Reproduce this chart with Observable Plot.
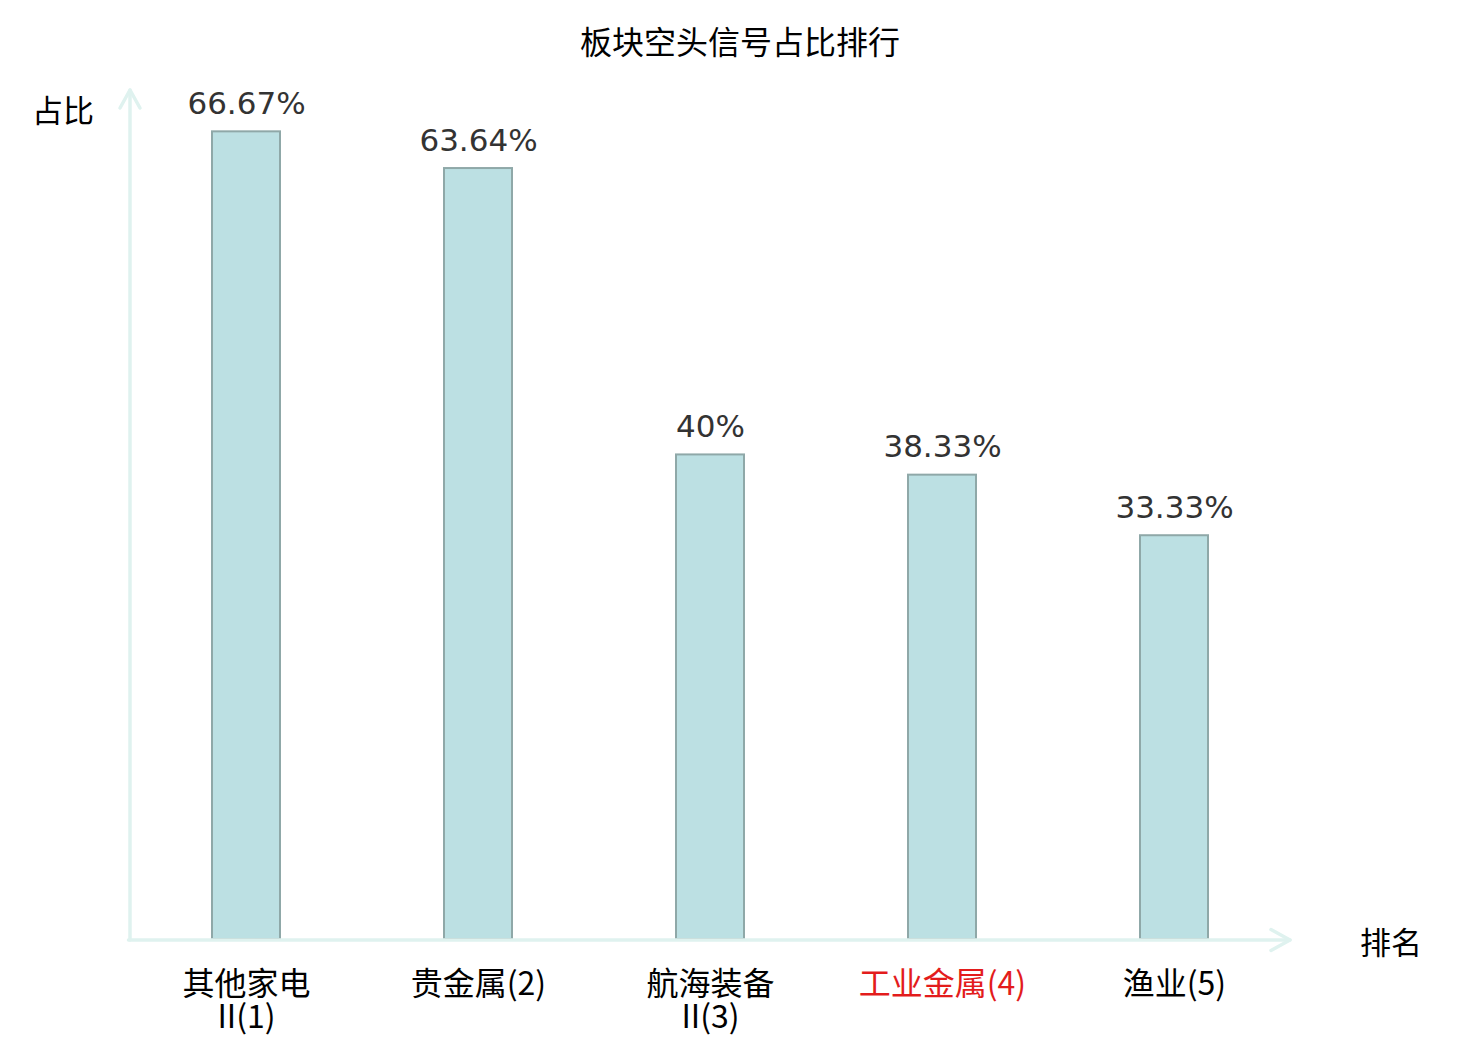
<!DOCTYPE html>
<html>
<head>
<meta charset="utf-8">
<script src="https://cdn.jsdelivr.net/npm/d3@7"></script>
<script src="https://cdn.jsdelivr.net/npm/@observablehq/plot@0.6"></script>
<style>
  html, body { margin: 0; padding: 0; background: #fff; }
  #title {
    width: 1480px; height: 70px; box-sizing: border-box; padding-top: 10px;
    text-align: center; font-family: "Noto Sans CJK SC", sans-serif;
    font-size: 32px; line-height: 60px; color: #000;
  }
  #chart svg { display: block; overflow: visible; }
</style>
</head>
<body>
<div id="title">板块空头信号占比排行</div>
<div id="chart"></div>
<script>
// Data
const categories = ["其他家电II", "贵金属", "航海装备II", "工业金属", "渔业"];
const ranks = [1, 2, 3, 4, 5];
const values = [66.67, 63.64, 40, 38.33, 33.33];
const tickLabels = ["其他家电\nII(1)", "贵金属(2)", "航海装备\nII(3)", "工业金属(4)", "渔业(5)"];
const labelColors = ["#000000", "#000000", "#000000", "#e31c1c", "#000000"];
const yDomain = [0, 70];
const axisNameY = "占比";
const axisNameX = "排名";

const data = categories.map((c, i) => ({
  name: c, rank: ranks[i], value: values[i], label: tickLabels[i], color: labelColors[i]
}));

const axisColor = "#dff2ef";

function axesMark(index, scales, values, dims) {
  const {width, height, marginLeft, marginRight, marginTop, marginBottom} = dims;
  const x0 = marginLeft, x1 = width - marginRight;
  const y0 = height - marginBottom, yTop = marginTop - 1;
  const g = d3.create("svg:g")
    .attr("fill", "none")
    .attr("stroke", axisColor)
    .attr("stroke-width", 3.5)
    .attr("stroke-linecap", "round")
    .attr("stroke-linejoin", "round");
  g.append("path").attr("d", `M${x0},${y0 + 1}L${x0},${yTop}`);
  g.append("path").attr("d", `M${x0 - 1.5},${y0 + 1}L${x1},${y0 + 1}`);
  g.append("path").attr("d", `M${x0 - 10},${yTop + 18}L${x0},${yTop}L${x0 + 10},${yTop + 18}`);
  g.append("path").attr("d", `M${x1 - 19},${y0 + 1 - 10.5}L${x1},${y0 + 1}L${x1 - 19},${y0 + 1 + 10.5}`);
  g.append("text")
    .attr("x", x0 - 67).attr("y", yTop + 18)
    .attr("text-anchor", "middle").attr("dominant-baseline", "central")
    .attr("stroke", "none").attr("fill", "#000")
    .attr("font-size", 31)
    .text(axisNameY);
  g.append("text")
    .attr("x", x1 + 70).attr("y", y0 + 1)
    .attr("text-anchor", "start").attr("dominant-baseline", "central")
    .attr("stroke", "none").attr("fill", "#000")
    .attr("font-size", 31)
    .text(axisNameX);
  return g.node();
}

const chart = Plot.plot({
  width: 1480,
  height: 970,
  marginLeft: 130,
  marginRight: 190,
  marginTop: 21,
  marginBottom: 101,
  style: {fontFamily: "'Noto Sans CJK SC', sans-serif", fontSize: "32px", background: "#fff", overflow: "visible"},
  x: {domain: categories, paddingInner: 0.707, paddingOuter: 0.3535, axis: null},
  y: {domain: yDomain, axis: null},
  marks: [
    Plot.barY(data, {x: "name", y: "value", fill: "#bce0e3", stroke: "#8fa8a8", strokeWidth: 2}),
    axesMark,
    Plot.text(data, {
      x: "name", y: "value", text: d => `${d.value}%`,
      lineAnchor: "bottom", dy: -18,
      fontFamily: "DejaVu Sans", fontSize: 31, fill: "#333"
    }),
    Plot.text(data, {
      x: "name", y: () => 0, text: "label", fill: "color",
      lineAnchor: "top", dy: 32, lineHeight: 1.04,
      fontSize: 32
    })
  ]
});
document.getElementById("chart").appendChild(chart);
</script>
</body>
</html>
